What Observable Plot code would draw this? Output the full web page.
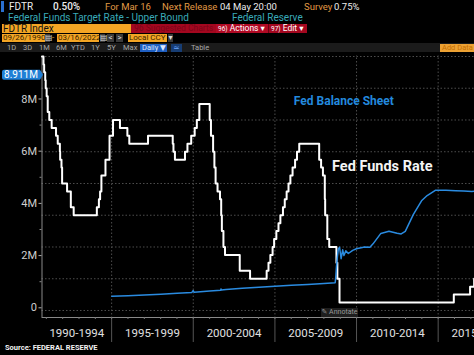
<!DOCTYPE html>
<html><head><meta charset="utf-8">
<script src="https://cdn.jsdelivr.net/npm/d3@7"></script>
<script src="https://cdn.jsdelivr.net/npm/@observablehq/plot@0.6"></script>
<style>
html,body{margin:0;padding:0;background:#000;}
#wrap{position:relative;width:474px;height:355px;overflow:hidden;background:#000;font-family:Roboto,"DejaVu Sans",sans-serif;}
.a{position:absolute;white-space:nowrap;line-height:11px;font-size:9.5px;}
.amb{color:#e09a45;}
.wh{color:#ececec;}
.tl{color:#39aab9;}
.box{position:absolute;white-space:nowrap;font-size:8px;line-height:8px;height:8px;}
.ob{background:#f3a524;color:#3a2500;padding-left:1px;}
.gb{background:#3a3a3a;color:#ddd;text-align:center;}
.r5{position:absolute;top:44px;font-size:7.5px;line-height:8px;color:#a8a8a8;}
.btn{position:absolute;top:24px;line-height:9px;font-size:8.5px;color:#fff;white-space:nowrap;}
.btn small{font-size:6.5px;}
#chart{position:absolute;left:0;top:55px;}
</style></head>
<body><div id="wrap">
<!-- row 1 -->
<div class="a" style="left:1px;top:1px;width:3px;height:11px;background:#2a6fd0;"></div>
<div class="a wh" style="left:9px;top:1px;font-size:10px;">FDTR</div>
<div class="a wh" style="left:53px;top:1px;font-size:10px;font-weight:500;">0.50%</div>
<div class="a amb" style="left:105px;top:1px;">For Mar 16</div>
<div class="a amb" style="left:162px;top:1px;">Next Release</div>
<div class="a wh" style="left:220px;top:1px;">04 May 20:00</div>
<div class="a amb" style="left:304px;top:1px;">Survey</div>
<div class="a wh" style="left:334px;top:1px;">0.75%</div>
<!-- row 2 -->
<div class="a tl" style="left:8px;top:12px;font-size:10px;">Federal Funds Target Rate - Upper Bound</div>
<div class="a tl" style="left:232px;top:12px;font-size:10px;">Federal Reserve</div>
<!-- row 3 -->
<div class="a" style="left:2px;top:24px;width:129px;height:9px;background:#f3a524;color:#111;font-size:10px;line-height:9px;padding-left:1px;box-sizing:border-box;">FDTR Index</div>
<div class="a" style="left:131px;top:24px;width:176px;height:9px;background:#a3071f;"></div>
<div class="a" style="left:134px;top:24px;line-height:9px;font-size:8.5px;color:#7c0518;">96 Suggested Charts</div>
<div class="a" style="left:216px;top:24px;width:52px;height:9px;background:#b10a24;"></div>
<div class="a" style="left:268px;top:24px;width:1px;height:9px;background:#6a0414;"></div>
<div class="btn" style="left:218px;"><small>96)</small> Actions ▾</div>
<div class="btn" style="left:271px;"><small>97)</small> Edit ▾</div>
<!-- row 4 -->
<div class="box ob" style="left:2px;top:34px;width:42px;">09/26/1990</div>
<div class="box gb" style="left:45px;top:34px;width:5px;">▤</div>
<div class="box" style="left:52px;top:34px;color:#f3a524;">-</div>
<div class="box ob" style="left:57px;top:34px;width:41px;">03/16/2022</div>
<div class="box gb" style="left:100px;top:34px;width:5px;">▤</div>
<div class="box gb" style="left:107px;top:34px;width:7px;">&lt;</div>
<div class="box gb" style="left:116px;top:34px;width:7px;">&gt;</div>
<div class="box ob" style="left:128px;top:34px;width:38px;">Local CCY</div>
<div class="box gb" style="left:168px;top:34px;width:5px;">▾</div>
<!-- row 5 -->
<div class="a" style="left:0;top:43px;width:474px;height:9px;background:#1b1b1b;"></div>
<div class="r5" style="left:7px;">1D</div>
<div class="r5" style="left:23px;">3D</div>
<div class="r5" style="left:39px;">1M</div>
<div class="r5" style="left:56px;">6M</div>
<div class="r5" style="left:71px;">YTD</div>
<div class="r5" style="left:91px;">1Y</div>
<div class="r5" style="left:107px;">5Y</div>
<div class="r5" style="left:123px;">Max</div>
<div class="r5" style="left:140px;width:27px;height:8px;background:#1f5fc2;color:#dfe8ff;padding-left:2px;box-sizing:border-box;">Daily ▼</div>
<div class="r5" style="left:171px;width:11px;height:8px;background:#173d73;color:#6aa6ff;text-align:center;">≃</div>
<div class="r5" style="left:191px;">Table</div>
<div class="r5" style="left:440px;width:34px;height:8px;background:#eda133;color:#c56f00;padding-left:2px;box-sizing:border-box;">Add Data</div>
<div id="chart"></div>
<div class="a" style="left:321px;top:308px;width:37px;height:9px;background:#1e1e1e;color:#9a9a9a;font-size:7px;line-height:9px;text-align:center;">✎ Annotate</div>
<div class="a" style="left:5px;top:343px;font-size:7.5px;line-height:9px;font-weight:bold;color:#f2f2f2;">Source: FEDERAL RESERVE</div>
</div>
<script>
// Fed funds target rate (upper bound), %
const rateDates = ["1990-09-26","1990-10-29","1990-11-13","1990-12-07","1990-12-18","1991-01-08","1991-02-01","1991-03-08","1991-04-30","1991-08-06","1991-09-13","1991-10-31","1991-11-06","1991-12-06","1991-12-20","1992-04-09","1992-07-02","1992-09-04","1994-02-04","1994-03-22","1994-04-18","1994-05-17","1994-08-16","1994-11-15","1995-02-01","1995-07-06","1995-12-19","1996-01-31","1997-03-25","1998-09-29","1998-10-15","1998-11-17","1999-06-30","1999-08-24","1999-11-16","2000-02-02","2000-03-21","2000-05-16","2001-01-03","2001-01-31","2001-03-20","2001-04-18","2001-05-15","2001-06-27","2001-08-21","2001-09-17","2001-10-02","2001-11-06","2001-12-11","2002-11-06","2003-06-25","2004-06-30","2004-08-10","2004-09-21","2004-11-10","2004-12-14","2005-02-02","2005-03-22","2005-05-03","2005-06-30","2005-08-09","2005-09-20","2005-11-01","2005-12-13","2006-01-31","2006-03-28","2006-05-10","2006-06-29","2007-09-18","2007-10-31","2007-12-11","2008-01-22","2008-01-30","2008-03-18","2008-04-30","2008-10-08","2008-10-29","2008-12-16","2015-12-17","2016-12-15","2017-03-16"];
const rateValues = [8.00,7.75,7.50,7.25,7.00,6.75,6.25,6.00,5.75,5.50,5.25,5.00,4.75,4.50,4.00,3.75,3.25,3.00,3.25,3.50,3.75,4.25,4.75,5.50,6.00,5.75,5.50,5.25,5.50,5.25,5.00,4.75,5.00,5.25,5.50,5.75,6.00,6.50,6.00,5.50,5.00,4.50,4.00,3.75,3.50,3.00,2.50,2.00,1.75,1.25,1.00,1.25,1.50,1.75,2.00,2.25,2.50,2.75,3.00,3.25,3.50,3.75,4.00,4.25,4.50,4.75,5.00,5.25,4.75,4.50,4.25,3.50,3.00,2.25,2.00,1.50,1.00,0.25,0.50,0.75,1.00];

// Fed balance sheet, $ millions of millions (M)
const balDates = ["1995-01-04","1996-01-03","1997-01-01","1998-01-07","1999-01-06","1999-12-01","1999-12-29","2000-01-19","2001-01-03","2001-09-05","2001-09-12","2001-09-26","2002-01-02","2003-01-01","2004-01-07","2005-01-05","2006-01-04","2007-01-03","2008-01-02","2008-09-10","2008-09-24","2008-10-08","2008-10-29","2008-11-19","2008-12-17","2009-01-21","2009-02-25","2009-03-25","2009-05-06","2009-07-01","2009-10-07","2009-12-30","2010-06-30","2010-10-27","2011-01-05","2011-06-29","2011-12-28","2012-06-27","2012-09-26","2012-12-26","2013-06-26","2013-12-25","2014-04-30","2014-10-29","2015-06-24","2016-01-27","2016-07-27","2017-01-25","2017-03-22"];
const balValues = [0.44,0.46,0.49,0.52,0.56,0.59,0.66,0.60,0.64,0.67,0.72,0.68,0.70,0.75,0.79,0.83,0.86,0.89,0.93,0.96,1.20,1.55,1.95,2.25,2.32,1.88,2.22,2.00,2.18,2.08,2.20,2.26,2.33,2.32,2.45,2.85,2.93,2.86,2.83,2.93,3.58,4.10,4.30,4.50,4.50,4.48,4.47,4.46,4.47];
const lastBalance = 8.911;

const yTicks = [0, 2, 4, 6, 8];
const yMinorTicks = [1, 3, 5, 7, 9];
const rateGrid = [0, 1, 2, 3, 4, 5, 6, 7, 8];
const periodLabels = ["1990-1994", "1995-1999", "2000-2004", "2005-2009", "2010-2014", "2015-2019"];
const periodStarts = ["1990-01-01", "1995-01-01", "2000-01-01", "2005-01-01", "2010-01-01", "2015-01-01"];
const periodEnd = "2020-01-01";

const annoLabels = ["Fed Balance Sheet", "Fed Funds Rate"];
const annoDates = ["2006-03-01", "2008-07-01"];
const annoValues = [7.9, 5.43];

const xStart = new Date("1990-09-26"), xEnd = new Date("2017-03-24");
const yDomain = [-0.372, 9.628];
// hidden right-hand rate axis mapped onto the left M axis
const rateToM = d3.scaleLinear().domain([0, 8]).range([-0.1034, 9.628]);

const rateData = rateDates.map((d, i) => ({date: new Date(d), v: rateToM(rateValues[i])}));
rateData.push({date: xEnd, v: rateData[rateData.length - 1].v});
const balData = balDates.map((d, i) => ({date: new Date(d), v: balValues[i]}));

const starts = periodStarts.map(d => new Date(d));
const periods = periodLabels.map((label, i) => {
  const a = i === 0 ? xStart : starts[i];
  const b = i < starts.length - 1 ? starts[i + 1] : new Date(periodEnd);
  return {label, center: new Date((+a + +b) / 2)};
});
const boundaries = starts.slice(1);
const yearTicks = d3.utcYear.range(new Date("1991-01-01"), xEnd);
const annos = annoLabels.map((label, i) => ({label, date: new Date(annoDates[i]), v: annoValues[i]}));

const W = 474, H = 287, mT = 1, mB = 25, mL = 41.5, mR = 0;
const chart = Plot.plot({
  width: W, height: H, marginTop: mT, marginBottom: mB, marginLeft: mL, marginRight: mR,
  style: {background: "#000", color: "#ccc", fontFamily: "Roboto, sans-serif"},
  x: {type: "utc", domain: [xStart, xEnd], label: null},
  y: {domain: yDomain, label: null},
  marks: [
    Plot.ruleY(rateGrid.map(r => rateToM(r)), {stroke: "#4d4d4d", strokeDasharray: "1.5,2"}),
    Plot.ruleX(boundaries, {stroke: "#4d4d4d", strokeDasharray: "1.5,2", insetTop: -2}),
    Plot.ruleX(boundaries, {stroke: "#555", insetTop: H - mT - mB, insetBottom: -mB}),
    Plot.ruleX([xStart], {stroke: "#8a8a8a"}),
    Plot.ruleY([yDomain[0]], {stroke: "#8a8a8a"}),
    Plot.axisY(yTicks, {label: null, tickFormat: d => d === 0 ? "0" : d + "M", tickSize: 3, tickPadding: 2, fontSize: 11, fill: "#cfcfcf", stroke: "#aaa"}),
    Plot.axisY(yMinorTicks, {label: null, tickFormat: () => "", tickSize: 2, stroke: "#888"}),
    Plot.axisX(yearTicks, {label: null, tickFormat: () => "", tickSize: 2, stroke: "#777"}),
    Plot.text(periods, {x: "center", text: "label", frameAnchor: "bottom", dy: 19.5, fill: "#e0e0e0", fontSize: 11.5}),
    Plot.line(rateData, {x: "date", y: "v", curve: "step-after", stroke: "#fff", strokeWidth: 2}),
    Plot.line(balData, {x: "date", y: "v", stroke: "#2a8be0", strokeWidth: 1.5}),
    Plot.text(annos.slice(0, 1), {x: "date", y: "v", text: "label", textAnchor: "start", fill: "#2389dd", fontWeight: "bold", fontSize: 12}),
    Plot.text(annos.slice(1), {x: "date", y: "v", text: "label", textAnchor: "start", fill: "#f4f4f4", fontWeight: "bold", fontSize: 14.5})
  ]
});
document.getElementById("chart").appendChild(chart);

// last-value tag on the left axis
const yy = chart.scale("y").apply(lastBalance);
const g = d3.select(chart).append("g");
g.append("path").attr("d", `M4,${yy - 5}h36l3,5l-3,5h-36q-2,0 -2,-2v-6q0,-2 2,-2z`).attr("fill", "#1f7fd6");
g.append("text").attr("x", 21).attr("y", yy).attr("dy", "0.35em").attr("text-anchor", "middle")
  .attr("fill", "#fff").attr("font-size", 10).attr("font-family", "Roboto, sans-serif").text(lastBalance.toFixed(3) + "M");
</script>
</body></html>
